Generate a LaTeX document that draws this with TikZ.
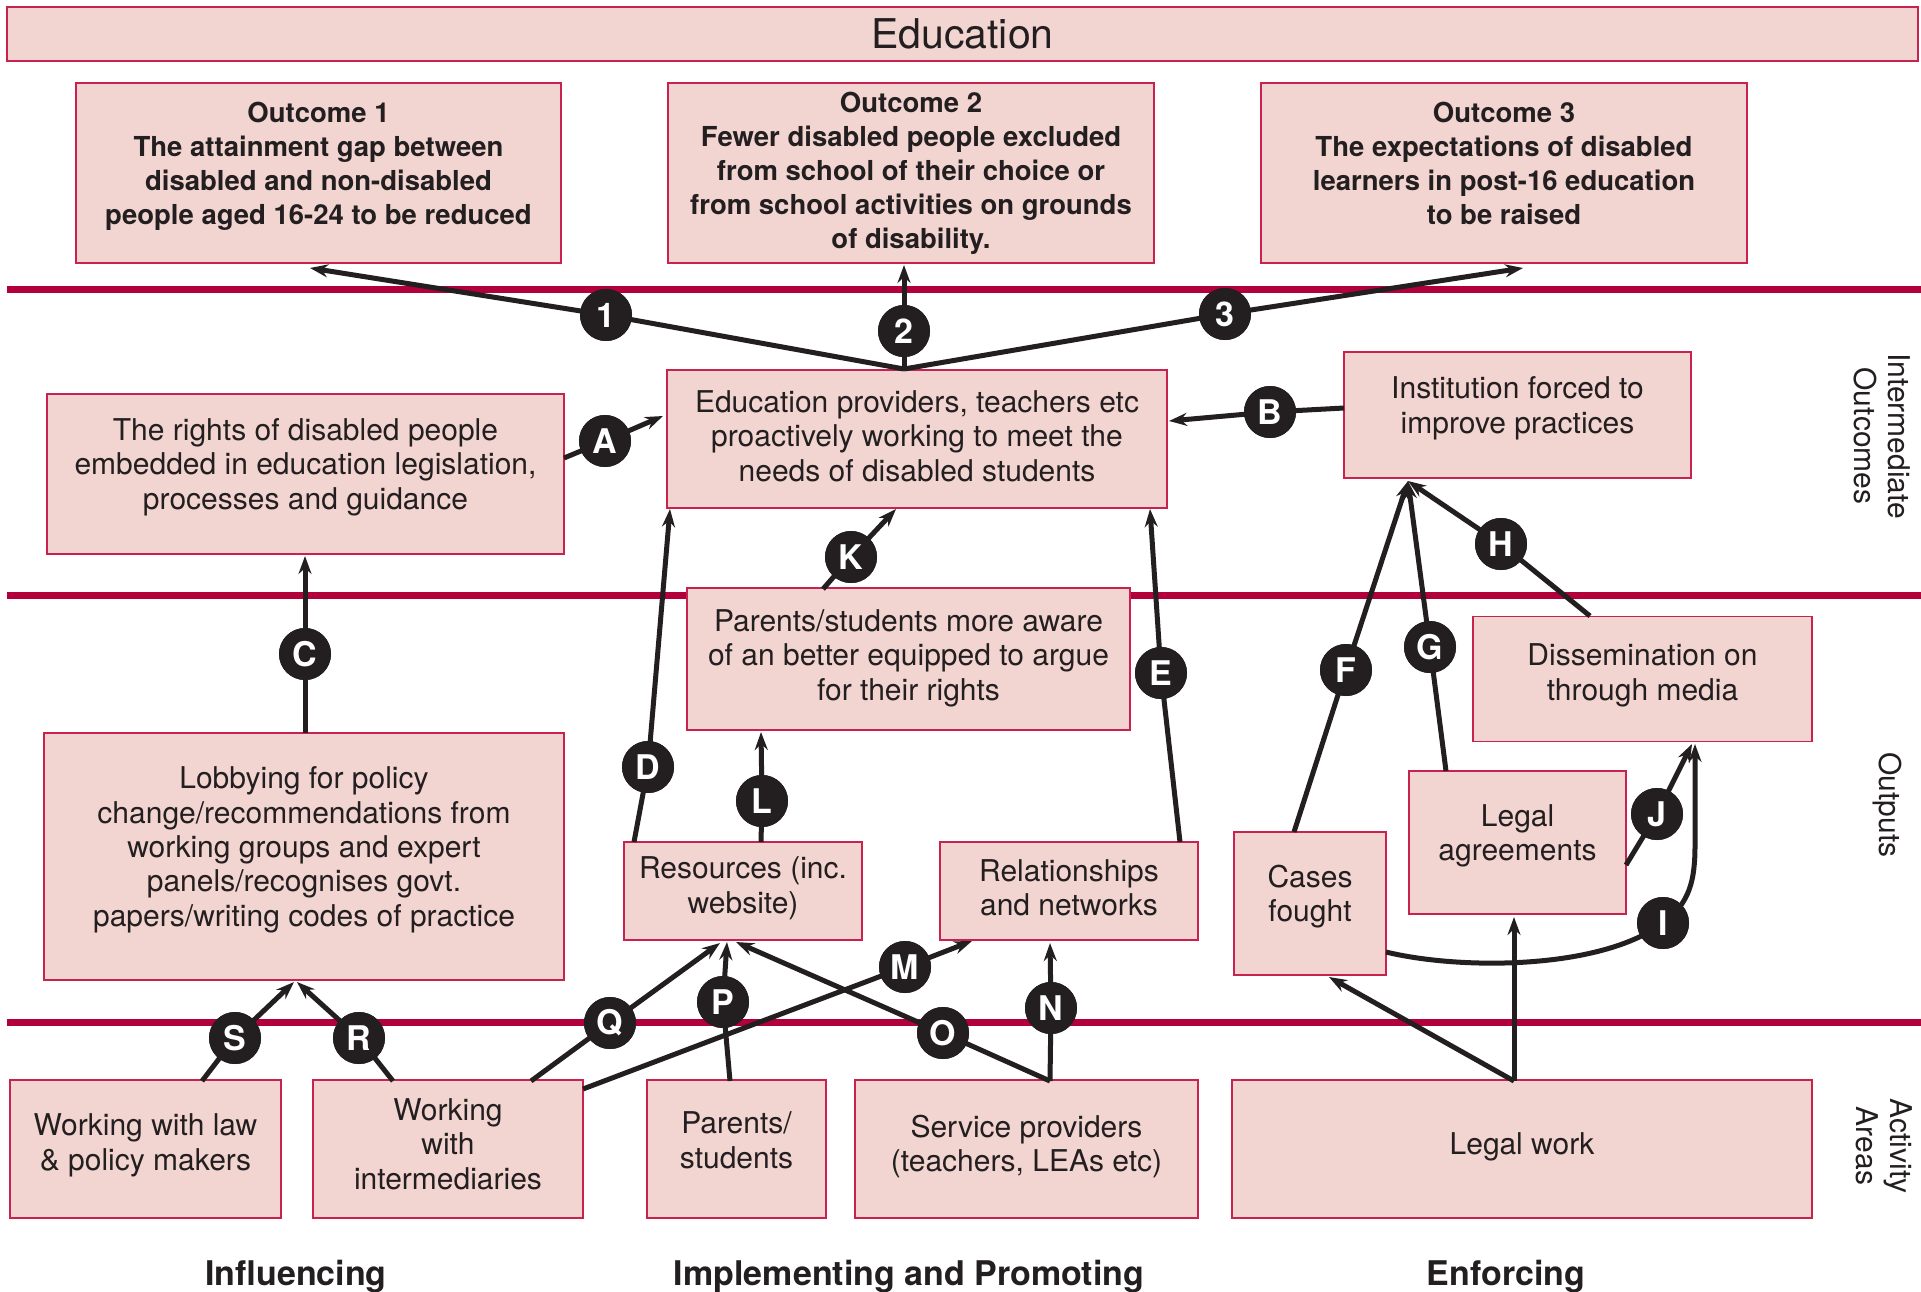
\documentclass[tikz,border=0pt]{standalone}
\usepackage{fontspec}
\setmainfont{TeX Gyre Heros}
\usetikzlibrary{arrows.meta}
\definecolor{boxfill}{HTML}{F2D4D0}
\definecolor{boxline}{HTML}{C8234F}
\definecolor{bandred}{HTML}{B1003A}
\definecolor{ink}{HTML}{231F20}
\begin{document}
\begin{tikzpicture}[x=1pt,y=-1pt,
  font=\fontsize{30}{34.3}\selectfont, text=ink,
  box/.style={draw=boxline, fill=boxfill, line width=1.5pt, align=center, inner sep=0pt, text=ink, text depth=20pt},
  outc/.style={box, font=\fontsize{27.5}{34}\selectfont\bfseries},
  band/.style={draw=bandred, line width=7pt},
  conn/.style={draw=ink, line width=5pt},
  arr/.style={conn, -{Stealth[length=18pt,width=13pt,inset=6pt]}},
  badge/.style={circle, fill=ink, text=white, inner sep=0pt, minimum size=52pt, font=\fontsize{34}{34}\selectfont\bfseries},
  side/.style={align=center, rotate=-90, font=\fontsize{30}{34.3}\selectfont},
  area/.style={font=\fontsize{34}{38}\selectfont\bfseries}
]
\useasboundingbox (0,0) rectangle (1921,1291);
\fill[white] (0,0) rectangle (1921,1291);

% bands
\draw[band] (7,289) -- (1921,289);
\draw[band] (7,595) -- (1921,595);
\draw[band] (7,1022) -- (1921,1022);

% title
\node[box, minimum width=1911pt, minimum height=54pt, text depth=0pt, font=\fontsize{41}{41}\selectfont] (title) at (962.5,34) {Education};

% outcomes
\node[outc, minimum width=485pt, minimum height=180pt] (o1) at (318.5,173) {Outcome 1\\The attainment gap between\\disabled and non-disabled\\people aged 16-24 to be reduced};
\node[outc, minimum width=486pt, minimum height=180pt, text depth=6pt] (o2) at (911,173) {Outcome 2\\Fewer disabled people excluded\\from school of their choice or\\from school activities on grounds\\of disability.};
\node[outc, minimum width=486pt, minimum height=180pt] (o3) at (1504,173) {Outcome 3\\The expectations of  disabled\\learners in post-16 education\\to be raised};

% intermediate outcomes
\node[box, minimum width=500pt, minimum height=138pt, text depth=6pt] (edu) at (917,439) {Education providers, teachers etc\\proactively working to meet the\\needs of disabled students};
\node[box, minimum width=517pt, minimum height=160pt] (rights) at (305.5,474) {The rights of disabled people\\embedded in education legislation,\\processes and guidance};
\node[box, minimum width=347pt, minimum height=126pt] (inst) at (1517.5,415) {Institution forced to\\improve practices};

% outputs
\node[box, minimum width=443pt, minimum height=142pt, text depth=8pt] (aware) at (908.5,659) {Parents/students more aware\\of an better equipped to argue\\for their rights};
\node[box, minimum width=520pt, minimum height=247pt] (lobby) at (304,856.5) {Lobbying for policy\\change/recommendations from\\working groups and expert\\panels/recognises govt.\\papers/writing codes of practice};
\node[box, minimum width=339pt, minimum height=125pt, text depth=14pt] (diss) at (1642.5,679) {Dissemination on\\through media};
\node[box, minimum width=238pt, minimum height=98pt, text depth=12pt] (res) at (743,891) {Resources (inc.\\website)};
\node[box, minimum width=258pt, minimum height=98pt, text depth=7pt] (rel) at (1069,891) {Relationships\\and networks};
\node[box, minimum width=217pt, minimum height=143pt] (legal) at (1517.5,842.5) {Legal\\agreements};
\node[box, minimum width=152pt, minimum height=143pt] (cases) at (1310,903.5) {Cases\\fought};

% activity areas
\node[box, minimum width=271pt, minimum height=138pt, text depth=14pt] (law) at (145.5,1149) {Working with law\\\& policy makers};
\node[box, minimum width=270pt, minimum height=138pt, text depth=10pt] (inter) at (448,1149) {Working\\with\\intermediaries};
\node[box, minimum width=179pt, minimum height=138pt, text depth=18pt] (ps) at (736.5,1149) {Parents/\\students};
\node[box, minimum width=343pt, minimum height=138pt, text depth=12pt] (serv) at (1026.5,1149) {Service providers\\(teachers, LEAs etc)};
\node[box, minimum width=580pt, minimum height=138pt, text depth=10pt] (lw) at (1522,1149) {Legal work};

% side labels
\node[side] (sideio) at (1882,436) {Intermediate\\Outcomes};
\node[side] (sideout) at (1887,805) {Outputs};
\node[side] (sideact) at (1884,1146) {Activity\\Areas};

% bottom labels
\node[area] (infl) at (296,1277) {Influencing};
\node[area] (impl) at (909,1277) {Implementing and Promoting};
\node[area] (enf) at (1506,1277) {Enforcing};

% badges (positions)
\node[badge] (c1) at (606,315) {1};
\node[badge] (c2) at (904,331) {2};
\node[badge] (c3) at (1225,314) {3};
\node[badge] (cA) at (605,441) {A};
\node[badge] (cB) at (1270,412) {B};
\node[badge] (cC) at (305,654) {C};
\node[badge] (cD) at (648,767) {D};
\node[badge] (cE) at (1161,673) {E};
\node[badge] (cF) at (1346,670) {F};
\node[badge] (cG) at (1430,647) {G};
\node[badge] (cH) at (1501,544) {H};
\node[badge] (cI) at (1663,923) {I};
\node[badge] (cJ) at (1657,814) {J};
\node[badge] (cK) at (851,557) {K};
\node[badge] (cL) at (762,801) {L};
\node[badge] (cM) at (905,967) {M};
\node[badge] (cN) at (1051,1008) {N};
\node[badge] (cO) at (943,1033) {O};
\node[badge] (cP) at (723,1002) {P};
\node[badge] (cQ) at (610,1023) {Q};
\node[badge] (cR) at (359,1038) {R};
\node[badge] (cS) at (235,1038) {S};

% connector end points
\coordinate (hub) at (904,369);
\coordinate (t1) at (310,268);
\coordinate (t2) at (904,265);
\coordinate (t3) at (1523,268);
\coordinate (sA) at (564,458);
\coordinate (tA) at (663,416);
\coordinate (sB) at (1344,408);
\coordinate (tB) at (1169,421);
\coordinate (sK) at (823,589);
\coordinate (tK) at (896,509);
\coordinate (sC) at (305,733);
\coordinate (tC) at (305,556);
\coordinate (sD) at (634,842);
\coordinate (tD) at (670,509);
\coordinate (sE) at (1180,842);
\coordinate (tE) at (1150,509);
\coordinate (sL) at (761,842);
\coordinate (tL) at (761,732);
\coordinate (sF) at (1294,832);
\coordinate (sG) at (1446,771);
\coordinate (sH) at (1590,616);
\coordinate (tinst) at (1408,481);
\coordinate (sJ) at (1626,865);
\coordinate (tJ) at (1692,744);
\coordinate (sI) at (1386,952);
\coordinate (tI) at (1695,744);
\coordinate (sN) at (1050,1081);
\coordinate (tN) at (1050,943);
\coordinate (tO) at (736,942);
\coordinate (sP) at (730,1081);
\coordinate (tP) at (727,942);
\coordinate (sQ) at (531,1081);
\coordinate (tQ) at (720,943);
\coordinate (sM) at (583,1089);
\coordinate (tM) at (972,941);
\coordinate (sS) at (202,1081);
\coordinate (tS) at (294,982);
\coordinate (sR) at (393,1081);
\coordinate (tR) at (297,982);
\coordinate (sW) at (1514,1081);
\coordinate (tW1) at (1514,917);
\coordinate (tW2) at (1329,977);

% connectors
\draw[arr] (hub) -- (c1.center) -- (t1);
\draw[arr] (hub) -- (c2.center) -- (t2);
\draw[arr] (hub) -- (c3.center) -- (t3);
\draw[arr] (sA) -- (cA.center) -- (tA);
\draw[arr] (sB) -- (cB.center) -- (tB);
\draw[arr] (sK) -- (cK.center) -- (tK);
\draw[arr] (sC) -- (cC.center) -- (tC);
\draw[arr] (sD) -- (cD.center) -- (tD);
\draw[arr] (sE) -- (cE.center) -- (tE);
\draw[arr] (sL) -- (cL.center) -- (tL);
\draw[arr] (sF) -- (cF.center) -- (tinst);
\draw[arr] (sG) -- (cG.center) -- (tinst);
\draw[arr] (sH) -- (cH.center) -- (tinst);
\draw[arr] (sJ) -- (cJ.center) -- (tJ);
\draw[arr] (sI) .. controls (1460,970) and (1600,970) .. (cI.center) .. controls (1690,903) and (1695,880) .. (1695,845) -- (tI);
\draw[arr] (sN) -- (cN.center) -- (tN);
\draw[arr] (sN) -- (cO.center) -- (tO);
\draw[arr] (sP) -- (cP.center) -- (tP);
\draw[arr] (sQ) -- (cQ.center) -- (tQ);
\draw[arr] (sM) -- (cM.center) -- (tM);
\draw[arr] (sS) -- (cS.center) -- (tS);
\draw[arr] (sR) -- (cR.center) -- (tR);
\draw[arr] (sW) -- (tW1);
\draw[arr] (sW) -- (tW2);

% badges on top
\foreach \b/\t in {c1/1,c2/2,c3/3,cA/A,cB/B,cC/C,cD/D,cE/E,cF/F,cG/G,cH/H,cI/I,cJ/J,cK/K,cL/L,cM/M,cN/N,cO/O,cP/P,cQ/Q,cR/R,cS/S}
  \node[badge] at (\b.center) {\t};
\end{tikzpicture}
\end{document}
